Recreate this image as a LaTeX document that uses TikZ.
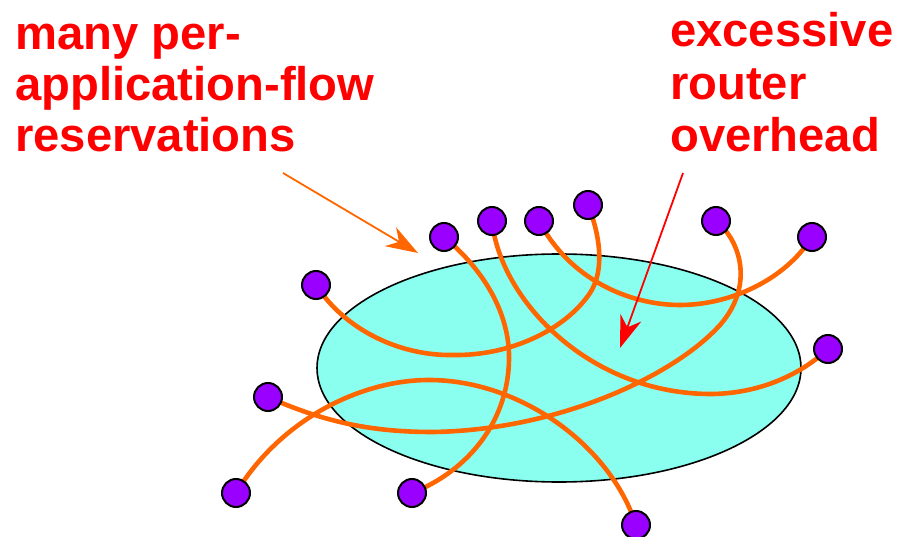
\documentclass[tikz,border=0pt]{standalone}
\usepackage{fontspec}
\setmainfont{Liberation Sans}
\usetikzlibrary{arrows.meta,shapes.geometric}
\definecolor{netorange}{RGB}{255,102,0}
\definecolor{hostpurple}{RGB}{153,0,255}
\definecolor{netcyan}{RGB}{138,255,240}
\definecolor{lblred}{RGB}{255,0,0}
\pgfdeclarelayer{bg}
\pgfdeclarelayer{mid}
\pgfsetlayers{bg,mid,main}
\begin{document}
\begin{tikzpicture}[x=1pt,y=-1pt,
  host/.style={circle,draw=black,line width=2pt,fill=hostpurple,minimum size=28pt,inner sep=0pt},
  flow/.style={draw=netorange,line width=4.6pt},
  lbl/.style={text=lblred,font=\fontsize{47.2}{51}\selectfont\bfseries,anchor=base west,inner sep=0pt},
  callout/.style={line width=1.8pt,-{Stealth[length=32pt,width=22pt,inset=10pt]}}]
\useasboundingbox (0,0) rectangle (902,537);
% network cloud
\begin{pgfonlayer}{bg}
\node[ellipse,draw=black,line width=1.6pt,fill=netcyan,minimum width=484pt,minimum height=228pt,inner sep=0pt] (net) at (559,368) {};
\end{pgfonlayer}
% hosts
\node[host] (n1) at (444,237) {};
\node[host] (n2) at (492,221) {};
\node[host] (n3) at (539,221) {};
\node[host] (n4) at (588,205) {};
\node[host] (n5) at (316,285) {};
\node[host] (n6) at (268,397) {};
\node[host] (n7) at (236,493) {};
\node[host] (n8) at (412,493) {};
\node[host] (n9) at (716,221) {};
\node[host] (n10) at (812,237) {};
\node[host] (n11) at (828,349) {};
\node[host] (n12) at (636,525) {};
% flows
\begin{pgfonlayer}{mid}
\draw[flow] (n5.center) .. controls (345,330) and (400,356) .. (453,355)
  .. controls (510,356) and (565,330) .. (590,293)
  .. controls (605,270) and (600,235) .. (n4.center);
\draw[flow] (n1.center) .. controls (490,275) and (510,320) .. (509,360)
  .. controls (508,420) and (470,470) .. (n8.center);
\draw[flow] (n2.center) .. controls (500,300) and (590,395) .. (713,394)
  .. controls (760,393) and (800,375) .. (n11.center);
\draw[flow] (n3.center) .. controls (570,280) and (630,305) .. (680,305)
  .. controls (730,305) and (785,280) .. (n10.center);
\draw[flow] (n6.center) .. controls (330,425) and (380,432) .. (433,432)
  .. controls (560,430) and (675,375) .. (720,325)
  .. controls (755,285) and (740,240) .. (n9.center);
\draw[flow] (n7.center) .. controls (280,420) and (360,380) .. (429,380)
  .. controls (520,380) and (610,445) .. (n12.center);
\end{pgfonlayer}
% labels
\node[lbl] (t1) at (15,50) {many per-};
\node[lbl] (t2) at (15,101) {application-flow};
\node[lbl] (t3) at (15,152) {reservations};
\node[lbl] (r1) at (670,47) {excessive};
\node[lbl] (r2) at (670,100) {router};
\node[lbl] (r3) at (670,152) {overhead};
% callout arrows
\coordinate (a1s) at (283,173);
\coordinate (a1e) at (418,253);
\coordinate (a2s) at (683,173);
\coordinate (a2e) at (620,348);
\draw[callout,netorange] (a1s) -- (a1e);
\draw[callout,lblred] (a2s) -- (a2e);
\end{tikzpicture}
\end{document}
